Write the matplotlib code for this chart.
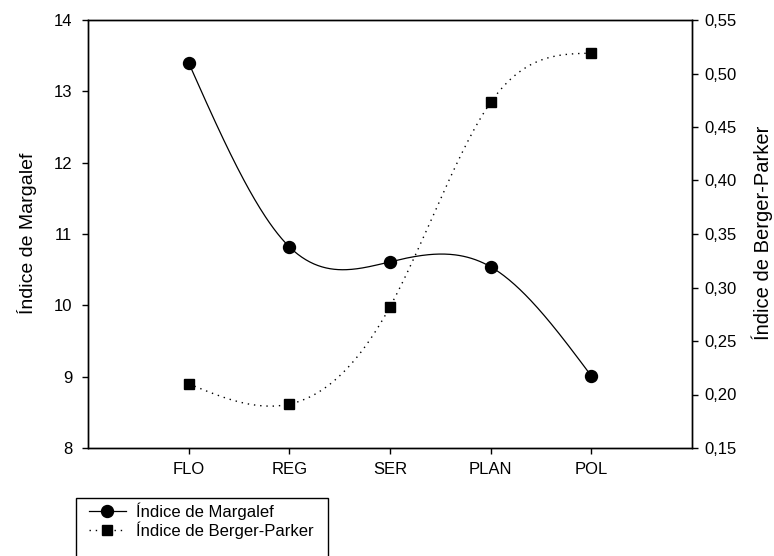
import numpy as np
import matplotlib
matplotlib.use("Agg")
import matplotlib.pyplot as plt
from matplotlib.lines import Line2D
from matplotlib.patches import Rectangle

plt.rcParams['font.family'] = ['Liberation Sans', 'DejaVu Sans']

sites = ["FLO", "REG", "SER", "PLAN", "POL"]
margalef = [13.40, 10.82, 10.61, 10.54, 9.01]
berger_parker = [0.210, 0.191, 0.282, 0.473, 0.519]


def natural_spline(x, y, n=300):
    # natural cubic spline through the points, for the smoothed lines
    x = np.asarray(x, float)
    y = np.asarray(y, float)
    k = len(x)
    h = np.diff(x)
    A = np.zeros((k, k))
    b = np.zeros(k)
    A[0, 0] = A[-1, -1] = 1.0
    for i in range(1, k - 1):
        A[i, i - 1] = h[i - 1]
        A[i, i] = 2 * (h[i - 1] + h[i])
        A[i, i + 1] = h[i]
        b[i] = 3 * ((y[i + 1] - y[i]) / h[i] - (y[i] - y[i - 1]) / h[i - 1])
    c = np.linalg.solve(A, b)
    xs = np.linspace(x[0], x[-1], n)
    idx = np.clip(np.searchsorted(x, xs) - 1, 0, k - 2)
    dx = xs - x[idx]
    bb = (y[idx + 1] - y[idx]) / h[idx] - h[idx] * (2 * c[idx] + c[idx + 1]) / 3
    dd = (c[idx + 1] - c[idx]) / (3 * h[idx])
    ys = y[idx] + bb * dx + c[idx] * dx ** 2 + dd * dx ** 3
    return xs, ys


W, H = 774, 556
pos = np.arange(1, len(sites) + 1)
dots = (0, (1, 3.5))

fig = plt.figure(figsize=(W / 100, H / 100), dpi=100)
ax = fig.add_axes([88 / W, 1 - 448 / H, (692 - 88) / W, (448 - 20) / H])
ax2 = ax.twinx()

xs, ys = natural_spline(pos, margalef)
ax.plot(xs, ys, color="black", lw=0.9)
ax.plot(pos, margalef, "o", color="black", ms=8.6)

xs2, ys2 = natural_spline(pos, berger_parker)
ax2.plot(xs2, ys2, color="black", lw=1.0, ls=dots)
ax2.plot(pos, berger_parker, "s", color="black", ms=7.2)

ax.set_xlim(0, 6)
ax.set_ylim(8, 14)
ax2.set_ylim(0.15, 0.55)
ax.set_xticks(pos)
ax.set_xticklabels(sites)
ax.set_yticks(np.arange(8, 15, 1))
bp_ticks = np.arange(0.15, 0.5501, 0.05)
ax2.set_yticks(bp_ticks)
ax2.set_yticklabels([f"{v:.2f}".replace(".", ",") for v in bp_ticks])

for a in (ax, ax2):
    a.tick_params(direction="out", length=4.3, width=1, labelsize=12, colors="black")
    for s in a.spines.values():
        s.set_linewidth(1)
ax.tick_params(axis="x", pad=6)
ax.tick_params(axis="y", pad=7)
ax2.tick_params(axis="y", pad=4.5)

fig.text(26.7 / W, 1 - 233 / H, "Índice de Margalef", rotation=90,
         ha="center", va="center", fontsize=14)
fig.text(762 / W, 1 - 233 / H, "Índice de Berger-Parker", rotation=90,
         ha="center", va="center", fontsize=14.5)

# legend box sits below the plot and runs off the bottom edge
fig.patches.append(Rectangle((75.7 / W, -0.05), (328 - 75.7) / W, 0.05 + 1 - 498 / H,
                             transform=fig.transFigure, fill=False,
                             edgecolor="black", lw=1))
handles = [
    Line2D([], [], color="black", lw=0.9, marker="o", ms=8.6),
    Line2D([], [], color="black", lw=1, ls=dots, marker="s", ms=7.2),
]
fig.legend(handles, ["Índice de Margalef", "Índice de Berger-Parker"],
           loc="upper left", bbox_to_anchor=(89 / W, 1 - 502 / H),
           fontsize=12, frameon=False, handlelength=2.2, handletextpad=0.62,
           borderpad=0, labelspacing=0.12, borderaxespad=0)

fig.savefig("out.png", dpi=100)
